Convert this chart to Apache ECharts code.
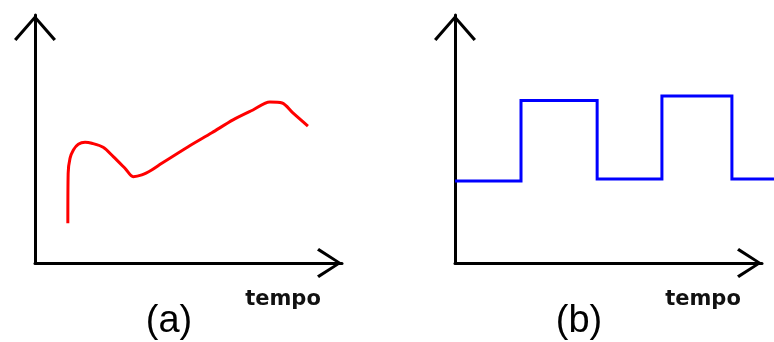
<!DOCTYPE html>
<html>
<head>
<meta charset="utf-8">
<script src="https://cdn.jsdelivr.net/npm/echarts@6/dist/echarts.min.js"></script>
<style>
  html, body { margin: 0; padding: 0; background: #ffffff; }
  #chart { width: 774px; height: 342px; }
</style>
</head>
<body>
<div id="chart"></div>
<script>
// Panel (a): red curve (arbitrary units, axis 0..10)
const redX = [1.07, 1.08, 1.14, 1.25, 1.41, 1.63, 1.85, 2.22, 2.55, 2.93, 3.20, 3.48, 3.80, 4.13, 4.99, 5.76, 6.45, 7.10, 7.65, 8.05, 8.40, 8.89];
const redY = [1.60, 3.62, 4.22, 4.56, 4.79, 4.87, 4.83, 4.67, 4.29, 3.82, 3.48, 3.55, 3.75, 4.02, 4.69, 5.25, 5.77, 6.17, 6.49, 6.45, 6.05, 5.52];

// Panel (b): blue square wave (level changes)
const blueX = [0, 2.15, 4.63, 6.74, 9.02, 10.39];
const blueY = [3.31, 6.55, 3.39, 6.73, 3.39, 3.39];

const panelLabels = ['(a)', '(b)'];
const axisName = 'tempo';

const chevronY = 'path://M21,0 L42,24 L39.6,26 L21,4.6 L2.4,26 L0,24 Z';
const chevronX = 'path://M15,0 L30,23 L27.5,25 L15,5 L2.5,25 L0,23 Z';

function xAxisDef(gi) {
  return {
    type: 'value', gridIndex: gi, min: 0, max: 10,
    axisLine: { show: true, onZero: false, lineStyle: { color: '#000', width: 3 },
      symbol: ['none', chevronX], symbolSize: [30, 25], symbolOffset: [0, -12.5] },
    axisTick: { show: false }, axisLabel: { show: false }, splitLine: { show: false }
  };
}
function yAxisDef(gi) {
  return {
    type: 'value', gridIndex: gi, min: 0, max: 10,
    axisLine: { show: true, onZero: false, lineStyle: { color: '#000', width: 3 },
      symbol: ['none', chevronY], symbolSize: [42, 26], symbolOffset: [0, -13] },
    axisTick: { show: false }, axisLabel: { show: false }, splitLine: { show: false }
  };
}
// hidden axes of a grid that shares panel (b)'s scale but reaches the right edge
const hiddenAxis = (gi, max) => ({
  type: 'value', gridIndex: gi, min: 0, max: max, show: false,
  axisLine: { show: false }, axisTick: { show: false }, axisLabel: { show: false }, splitLine: { show: false }
});

const W = 774, bLeft = 455, bRight = 12;
const extMax = 10 * (W - bLeft) / (W - bLeft - bRight);

const chart = echarts.init(document.getElementById('chart'), null, { renderer: 'canvas' });
chart.setOption({
  animation: false,
  backgroundColor: '#ffffff',
  grid: [
    { left: 35, right: 432, top: 15, bottom: 79 },
    { left: bLeft, right: bRight, top: 15, bottom: 79 },
    { left: bLeft, right: 0, top: 15, bottom: 79 }
  ],
  xAxis: [xAxisDef(0), xAxisDef(1), hiddenAxis(2, extMax)],
  yAxis: [yAxisDef(0), yAxisDef(1), hiddenAxis(2, 10)],
  series: [
    {
      type: 'line', xAxisIndex: 0, yAxisIndex: 0,
      data: redX.map((x, i) => [x, redY[i]]),
      showSymbol: false, smooth: 0.3,
      lineStyle: { color: '#ff0000', width: 3 }
    },
    {
      type: 'line', xAxisIndex: 2, yAxisIndex: 2,
      data: blueX.map((x, i) => [x, blueY[i]]),
      step: 'end', showSymbol: false, clip: false,
      lineStyle: { color: '#0000ff', width: 3, join: 'miter' }
    }
  ],
  graphic: [
    { type: 'text', x: 169, y: 322, style: { text: panelLabels[0], font: '38px "Liberation Sans", Arial, sans-serif', fill: '#000', align: 'center', verticalAlign: 'middle' } },
    { type: 'text', x: 579, y: 322, style: { text: panelLabels[1], font: '38px "Liberation Sans", Arial, sans-serif', fill: '#000', align: 'center', verticalAlign: 'middle' } },
    { type: 'text', x: 283, y: 300, style: { text: axisName, font: 'bold 21px "DejaVu Sans", sans-serif', fill: '#111', align: 'center', verticalAlign: 'middle' } },
    { type: 'text', x: 703, y: 300, style: { text: axisName, font: 'bold 21px "DejaVu Sans", sans-serif', fill: '#111', align: 'center', verticalAlign: 'middle' } }
  ]
});
</script>
</body>
</html>
